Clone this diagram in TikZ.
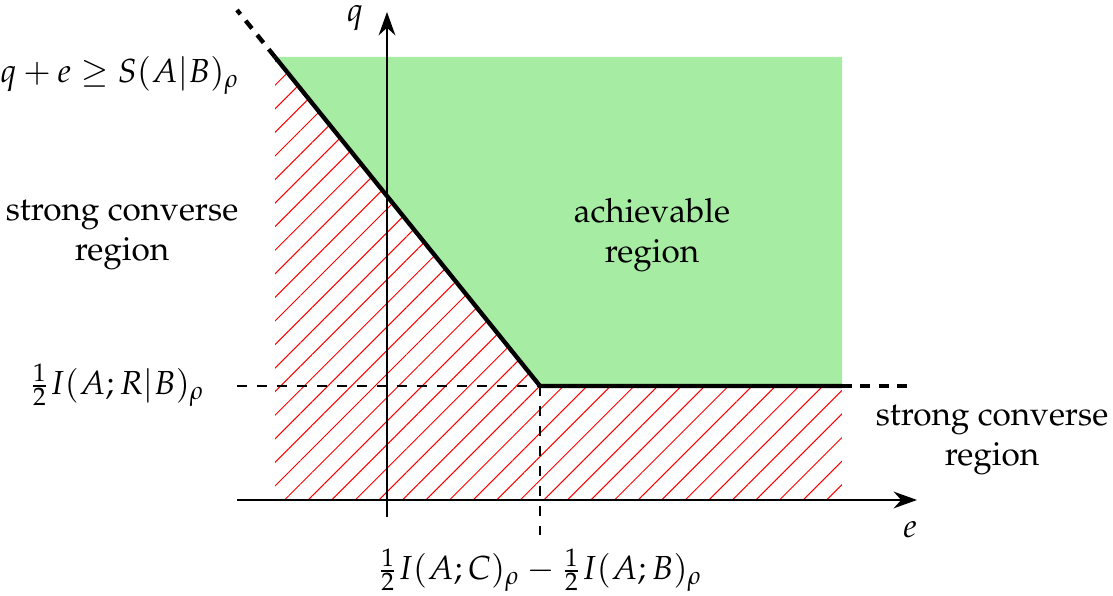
\documentclass[tikz,border=0pt]{standalone}
\usepackage[T1]{fontenc}
\usepackage{mathpazo}
\usetikzlibrary{patterns.meta,arrows.meta}
\definecolor{achgreen}{RGB}{166,236,162}
\tikzset{
  axis/.style={line width=0.75pt,-{Stealth[length=7pt,width=5pt]}},
  bound/.style={line width=1.3pt},
  bounddash/.style={line width=1.3pt,dash pattern=on 3pt off 2.5pt},
  guide/.style={line width=0.5pt,dash pattern=on 3pt off 3pt},
  lbl/.style={align=center,inner sep=1pt}
}
\begin{document}
\begin{tikzpicture}[x=0.3pt,y=-0.3pt]
\useasboundingbox (0,0) rectangle (1113,596);
% key coordinates
\coordinate (tl) at (275,57);
\coordinate (corner) at (540,386);
\coordinate (rc) at (842,386);
\coordinate (tr) at (842,57);
\coordinate (br) at (842,500);
\coordinate (bl) at (275,500);
\coordinate (dstart) at (237,10);
\coordinate (dend) at (915,386);
\coordinate (xs) at (237,500);
\coordinate (xe) at (917,500);
\coordinate (ys) at (387,517);
\coordinate (ye) at (387,12);
\coordinate (hg) at (237,386);
\coordinate (vg) at (540,535);
% regions
\fill[achgreen] (tl) -- (corner) -- (rc) -- (tr) -- cycle;
\path[pattern={Lines[angle=45,distance=5pt,line width=0.3pt]},pattern color=red]
  (tl) -- (corner) -- (rc) -- (br) -- (bl) -- cycle;
% guides
\draw[guide] (hg) -- (corner);
\draw[guide] (corner) -- (vg);
% axes
\draw[axis] (xs) -- (xe);
\draw[axis] (ys) -- (ye);
% boundary
\draw[bound] (tl) -- (corner) -- (rc);
\draw[bounddash] (tl) -- (dstart);
\draw[bounddash] (rc) -- (dend);
% labels
\node[lbl] (ql) at (355,18) {$q$};
\node[lbl] (el) at (910,530) {$e$};
\node[lbl] (ineq) at (120,75) {$q+e\geq S(A|B)_\rho$};
\node[lbl] (scl) at (122,235) {strong converse\\region};
\node[lbl] (ach) at (652,235) {achievable\\region};
\node[lbl] (hq) at (117,385) {$\frac{1}{2}I(A;R|B)_\rho$};
\node[lbl] (scr) at (992,440) {strong converse\\region};
\node[lbl] (he) at (540,570) {$\frac{1}{2}I(A;C)_\rho-\frac{1}{2}I(A;B)_\rho$};
\end{tikzpicture}
\end{document}
